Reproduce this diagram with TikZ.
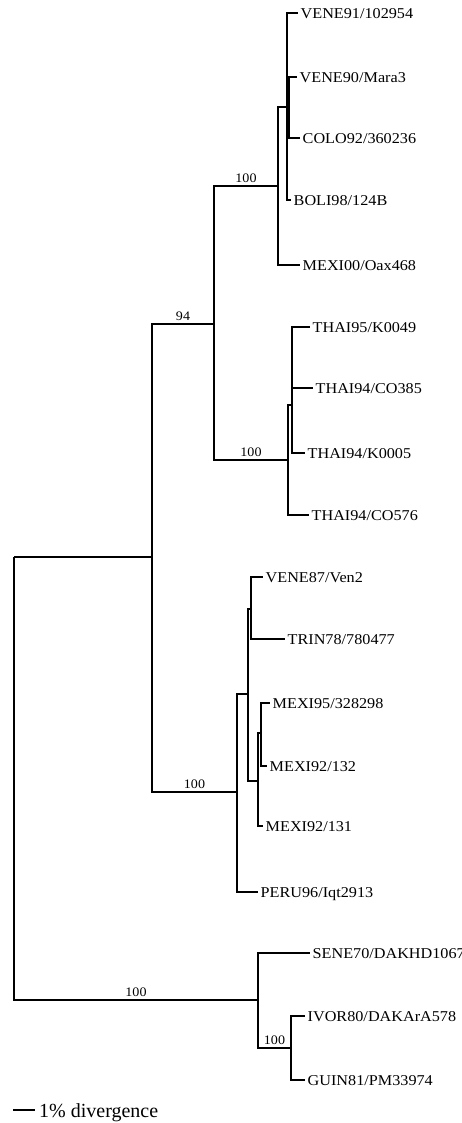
\documentclass[tikz,border=0pt]{standalone}
\usepackage{fontspec}
\setmainfont{Liberation Serif}
\usetikzlibrary{calc}

\tikzset{
  branch/.style={line width=1.3pt},
  taxon/.style={anchor=west, inner sep=2.5pt, text height=11pt, text depth=0pt,
    font=\fontsize{15}{18}\selectfont},
  boot/.style={above, inner sep=3pt, font=\fontsize{13}{15}\selectfont},
}
\newcommand{\wide}[1]{\scalebox{1.08}[1]{#1}}

\begin{document}
\begin{tikzpicture}[x=1pt,y=-1pt]

\path[use as bounding box] (0,0) rectangle (462,1123);
\clip (0,0) rectangle (462,1123);

% Internal nodes
\coordinate (root) at (14,557);
\coordinate (A) at (152,557);
\coordinate (B) at (214,324);
\coordinate (C) at (278,186);
\coordinate (D) at (287,107);
\coordinate (E) at (289,107);
\coordinate (F) at (288,460);
\coordinate (G) at (292,405);
\coordinate (H) at (237,792);
\coordinate (I) at (248,694);
\coordinate (J) at (251,609);
\coordinate (K) at (258,781);
\coordinate (L) at (261,733);
\coordinate (M) at (258,1000);
\coordinate (N) at (291,1048);

% Taxa
\foreach \n/\x/\y/\t in {
  vene91/298/13/{VENE91/102954},
  vene90/297/77/{VENE90/Mara3},
  colo92/300/138/{COLO92/360236},
  boli98/291/200/{BOLI98/124B},
  mexi00/300/265/{MEXI00/Oax468},
  thai95/310/327/{THAI95/K0049},
  thai385/313/388/{THAI94/CO385},
  thai005/305/453/{THAI94/K0005},
  thai576/309/515/{THAI94/CO576},
  vene87/263/577/{VENE87/Ven2},
  trin78/285/639/{TRIN78/780477},
  mexi95/270/703/{MEXI95/328298},
  mexi132/267/766/{MEXI92/132},
  mexi131/263/826/{MEXI92/131},
  peru96/258/892/{PERU96/Iqt2913},
  sene70/310/953/{SENE70/DAKHD1067},
  ivor80/305/1016/{IVOR80/DAKArA578},
  guin81/305/1080/{GUIN81/PM33974}} {
\node[taxon] (\n) at (\x,\y) {\wide{\t}};
}

% Inner branches
\foreach \p/\c in {root/A,root/M,A/B,A/H,B/C,B/F,C/D,D/E,F/G,
  H/I,I/J,I/K,K/L,M/N} {
\draw[branch] (\p) |- (\c);
}

% Terminal branches
\foreach \p/\c in {D/vene91,E/vene90,E/colo92,D/boli98,C/mexi00,
  G/thai95,G/thai385,G/thai005,F/thai576,J/vene87,J/trin78,
  L/mexi95,L/mexi132,K/mexi131,H/peru96,M/sene70,N/ivor80,N/guin81} {
\draw[branch] (\p) |- (\c.west);
}

% Bootstrap values
\path (A) |- (B) node[boot, pos=.75] (bsB) {\wide{94}};
\path (B) |- (C) node[boot, pos=.75] (bsC) {\wide{100}};
\path (B) |- (F) node[boot, pos=.75] (bsF) {\wide{100}};
\path (A) |- (H) node[boot, pos=.75] (bsH) {\wide{100}};
\path (root) |- (M) node[boot, pos=.75] (bsM) {\wide{100}};
\path (M) |- (N) node[boot, pos=.75] (bsN) {\wide{100}};

% Scale bar
\coordinate (sb1) at (13,1110);
\coordinate (sb2) at (35,1110);
\draw[branch] (sb1) -- (sb2);
\node[anchor=west, inner sep=4pt, text height=14pt, text depth=0pt,
  font=\fontsize{20}{24}\selectfont] (sbl) at (sb2) {1\% divergence};

\end{tikzpicture}
\end{document}
